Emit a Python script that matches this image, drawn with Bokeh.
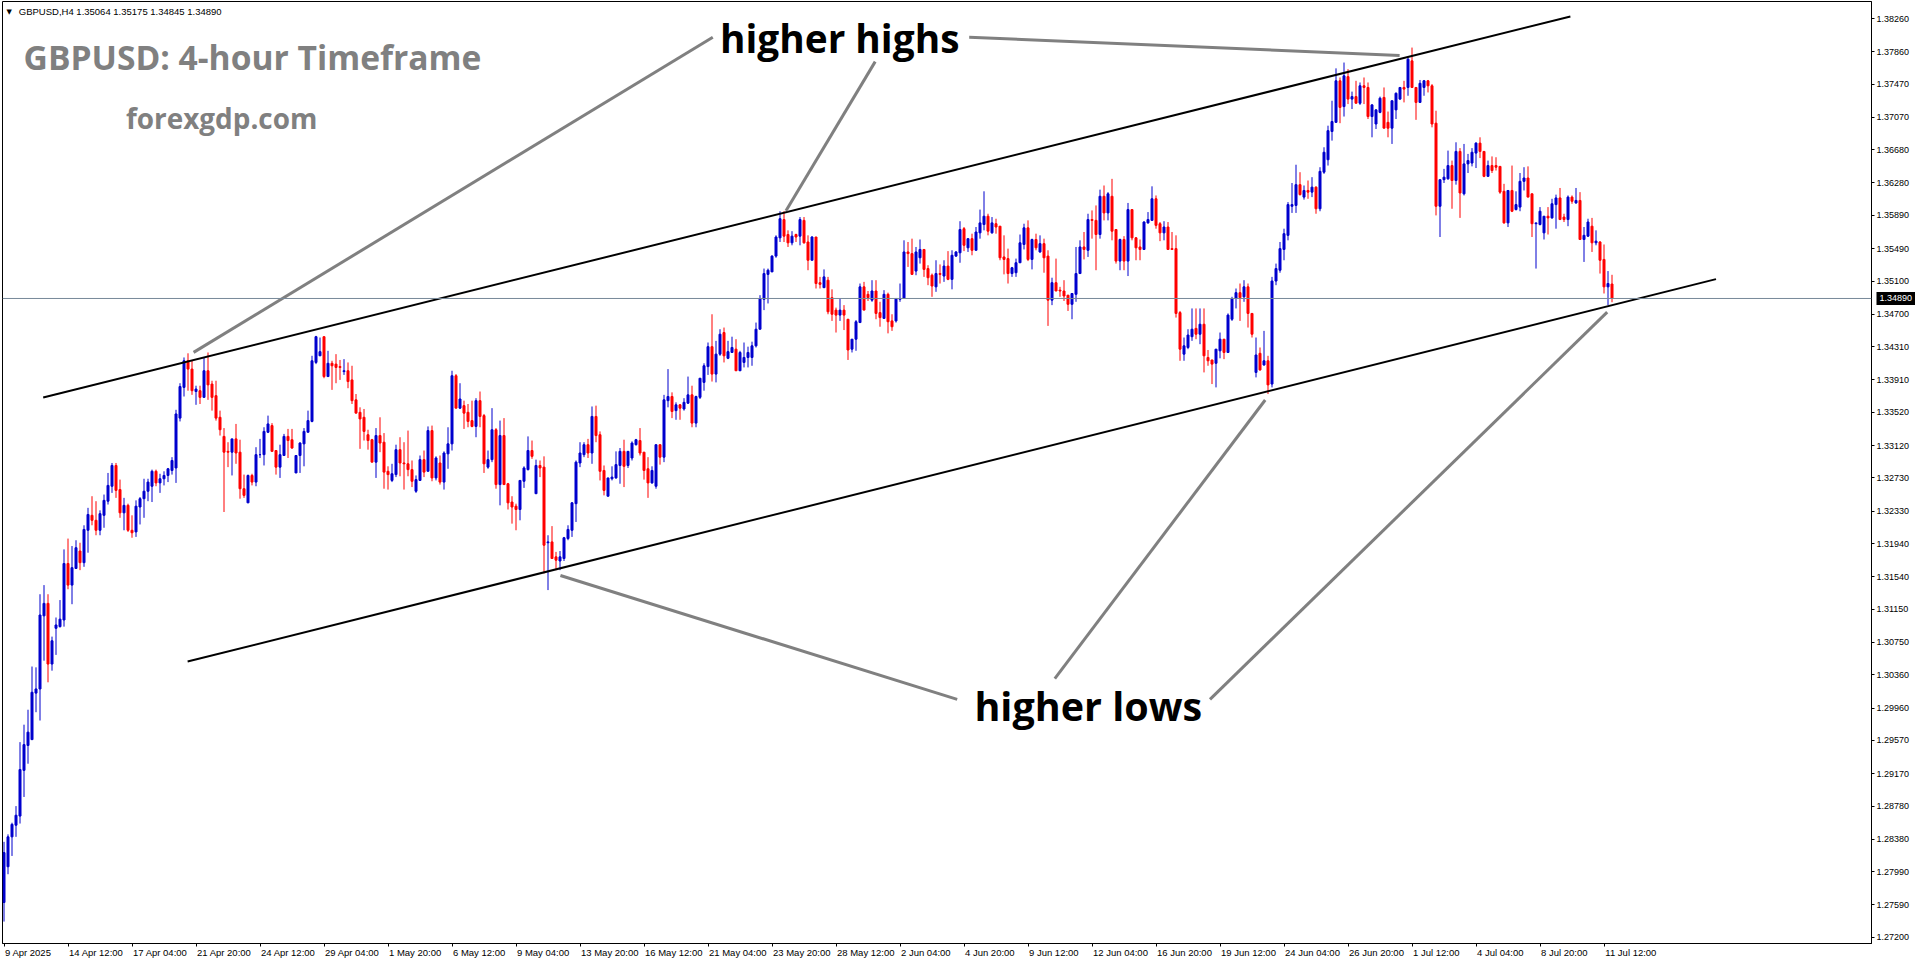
from bokeh.plotting import figure
from bokeh.models import (Range1d, FixedTicker, Label, Span, ColumnDataSource,
                          PrintfTickFormatter, LinearAxis)
from bokeh.embed import file_html
from bokeh.resources import INLINE

# ---------------- texts ----------------
symbol_header = "GBPUSD,H4  1.35064 1.35175 1.34845 1.34890"
chart_title = "GBPUSD: 4-hour Timeframe"
site_name = "forexgdp.com"
label_highs = "higher highs"
label_lows = "higher lows"
last_price = 1.34890

# ---------------- 4-hour candles (bar index 0 = 9 Apr 2025 20:00) ----------------
opens = [
1.2762,1.2805,1.2841,1.2855,1.2866,1.2921,1.2951,1.2958,1.3014,1.3019,
1.3107,1.3122,1.3049,1.3092,1.3094,1.3102,1.3170,1.3144,1.3164,1.3185,
1.3171,1.3210,1.3228,1.3222,1.3210,1.3228,1.3245,1.3263,1.3288,1.3259,
1.3231,1.3240,1.3210,1.3208,1.3238,1.3248,1.3257,1.3263,1.3281,1.3267,
1.3272,1.3276,1.3282,1.3285,1.3345,1.3382,1.3414,1.3404,1.3377,1.3378,
1.3370,1.3402,1.3386,1.3372,1.3346,1.3323,1.3305,1.3304,1.3320,1.3304,
1.3260,1.3243,1.3276,1.3268,1.3301,1.3301,1.3328,1.3336,1.3306,1.3286,
1.3300,1.3323,1.3319,1.3279,1.3300,1.3314,1.3328,1.3341,1.3412,1.3420,
1.3443,1.3395,1.3411,1.3410,1.3407,1.3401,1.3402,1.3391,1.3367,1.3352,
1.3346,1.3325,1.3319,1.3292,1.3324,1.3316,1.3281,1.3270,1.3277,1.3307,
1.3291,1.3290,1.3283,1.3257,1.3270,1.3295,1.3281,1.3330,1.3273,1.3291,
1.3268,1.3302,1.3314,1.3396,1.3357,1.3360,1.3352,1.3342,1.3335,1.3366,
1.3348,1.3286,1.3295,1.3331,1.3265,1.3324,1.3266,1.3244,1.3239,1.3235,
1.3269,1.3283,1.3306,1.3254,1.3288,1.3286,1.3195,1.3196,1.3178,1.3173,
1.3176,1.3200,1.3210,1.3242,1.3291,1.3301,1.3313,1.3303,1.3347,1.3325,
1.3282,1.3251,1.3272,1.3273,1.3288,1.3305,1.3288,1.3297,1.3313,1.3318,
1.3304,1.3284,1.3267,1.3263,1.3313,1.3298,1.3366,1.3371,1.3354,1.3361,
1.3356,1.3363,1.3373,1.3339,1.3370,1.3388,1.3407,1.3431,1.3398,1.3422,
1.3448,1.3417,1.3424,1.3428,1.3402,1.3412,1.3418,1.3418,1.3432,1.3452,
1.3488,1.3518,1.3521,1.3540,1.3562,1.3584,1.3566,1.3556,1.3566,1.3564,
1.3583,1.3557,1.3535,1.3563,1.3508,1.3502,1.3511,1.3490,1.3475,1.3469,
1.3475,1.3464,1.3428,1.3440,1.3460,1.3503,1.3494,1.3487,1.3498,1.3472,
1.3465,1.3494,1.3462,1.3462,1.3488,1.3489,1.3545,1.3543,1.3522,1.3538,
1.3548,1.3525,1.3517,1.3503,1.3519,1.3516,1.3528,1.3512,1.3540,1.3544,
1.3573,1.3550,1.3561,1.3547,1.3568,1.3578,1.3588,1.3568,1.3579,1.3576,
1.3539,1.3537,1.3519,1.3520,1.3532,1.3554,1.3574,1.3536,1.3560,1.3545,
1.3555,1.3540,1.3487,1.3508,1.3499,1.3498,1.3493,1.3482,1.3494,1.3519,
1.3551,1.3547,1.3584,1.3583,1.3566,1.3612,1.3592,1.3612,1.3572,1.3534,
1.3560,1.3534,1.3596,1.3562,1.3551,1.3548,1.3580,1.3583,1.3609,1.3579,
1.3568,1.3575,1.3549,1.3549,1.3472,1.3422,1.3430,1.3443,1.3453,1.3446,
1.3458,1.3418,1.3415,1.3411,1.3426,1.3440,1.3424,1.3464,1.3489,1.3496,
1.3491,1.3503,1.3471,1.3400,1.3423,1.3409,1.3414,1.3386,1.3510,1.3523,
1.3548,1.3565,1.3600,1.3601,1.3626,1.3611,1.3619,1.3617,1.3623,1.3597,
1.3641,1.3656,1.3690,1.3701,1.3751,1.3720,1.3756,1.3729,1.3732,1.3724,
1.3745,1.3743,1.3708,1.3699,1.3713,1.3731,1.3701,1.3694,1.3716,1.3729,
1.3743,1.3743,1.3775,1.3743,1.3725,1.3743,1.3751,1.3745,1.3700,1.3600,
1.3632,1.3633,1.3649,1.3631,1.3666,1.3615,1.3651,1.3652,1.3664,1.3676,
1.3666,1.3636,1.3649,1.3649,1.3648,1.3618,1.3580,1.3619,1.3596,1.3599,
1.3630,1.3634,1.3615,1.3579,1.3578,1.3568,1.3588,1.3586,1.3602,1.3610,
1.3587,1.3584,1.3611,1.3604,1.3607,1.3560,1.3564,1.3576,1.3556,1.3557,
1.3536,1.3503,1.35064]

highs = [
1.2835,1.2844,1.2858,1.2878,1.2955,1.2976,1.2994,1.3046,1.3045,1.3133,
1.3144,1.3133,1.3082,1.3105,1.3126,1.3187,1.3200,1.3191,1.3198,1.3195,
1.3216,1.3237,1.3251,1.3245,1.3234,1.3253,1.3279,1.3291,1.3291,1.3271,
1.3249,1.3242,1.3228,1.3246,1.3250,1.3272,1.3272,1.3283,1.3283,1.3278,
1.3281,1.3285,1.3298,1.3355,1.3387,1.3418,1.3423,1.3414,1.3384,1.3384,
1.3418,1.3424,1.3390,1.3390,1.3354,1.3333,1.3316,1.3320,1.3338,1.3319,
1.3277,1.3277,1.3278,1.3310,1.3320,1.3334,1.3348,1.3339,1.3306,1.3313,
1.3326,1.3332,1.3332,1.3300,1.3316,1.3333,1.3354,1.3420,1.3444,1.3442,
1.3443,1.3426,1.3414,1.3422,1.3415,1.3416,1.3412,1.3408,1.3374,1.3358,
1.3356,1.3331,1.3320,1.3333,1.3346,1.3327,1.3287,1.3290,1.3313,1.3322,
1.3316,1.3330,1.3294,1.3276,1.3300,1.3306,1.3335,1.3336,1.3299,1.3300,
1.3305,1.3334,1.3402,1.3398,1.3387,1.3366,1.3362,1.3366,1.3369,1.3377,
1.3350,1.3306,1.3357,1.3333,1.3342,1.3345,1.3267,1.3251,1.3242,1.3270,
1.3287,1.3323,1.3318,1.3295,1.3294,1.3299,1.3204,1.3215,1.3184,1.3185,
1.3202,1.3216,1.3244,1.3294,1.3316,1.3316,1.3320,1.3359,1.3360,1.3329,
1.3288,1.3273,1.3287,1.3305,1.3309,1.3319,1.3305,1.3317,1.3320,1.3333,
1.3304,1.3298,1.3287,1.3313,1.3313,1.3373,1.3404,1.3376,1.3364,1.3362,
1.3369,1.3395,1.3384,1.3372,1.3393,1.3411,1.3436,1.3470,1.3438,1.3452,
1.3454,1.3438,1.3443,1.3440,1.3426,1.3436,1.3431,1.3437,1.3460,1.3493,
1.3525,1.3525,1.3541,1.3565,1.3594,1.3594,1.3571,1.3570,1.3567,1.3587,
1.3587,1.3565,1.3564,1.3563,1.3515,1.3524,1.3515,1.3500,1.3478,1.3489,
1.3481,1.3464,1.3440,1.3463,1.3507,1.3509,1.3498,1.3511,1.3511,1.3485,
1.3499,1.3496,1.3470,1.3489,1.3507,1.3559,1.3557,1.3561,1.3551,1.3560,
1.3548,1.3529,1.3519,1.3535,1.3530,1.3535,1.3546,1.3547,1.3546,1.3582,
1.3575,1.3561,1.3567,1.3575,1.3596,1.3618,1.3591,1.3587,1.3585,1.3576,
1.3565,1.3549,1.3527,1.3537,1.3566,1.3579,1.3583,1.3561,1.3567,1.3565,
1.3561,1.3547,1.3514,1.3537,1.3503,1.3511,1.3493,1.3495,1.3551,1.3559,
1.3569,1.3591,1.3595,1.3601,1.3620,1.3625,1.3617,1.3633,1.3572,1.3561,
1.3564,1.3604,1.3596,1.3563,1.3560,1.3582,1.3593,1.3624,1.3613,1.3581,
1.3582,1.3581,1.3569,1.3565,1.3474,1.3442,1.3452,1.3477,1.3477,1.3477,
1.3477,1.3427,1.3415,1.3428,1.3448,1.3440,1.3471,1.3491,1.3501,1.3507,
1.3511,1.3507,1.3471,1.3442,1.3430,1.3450,1.3420,1.3515,1.3531,1.3557,
1.3573,1.3605,1.3628,1.3650,1.3641,1.3625,1.3631,1.3635,1.3624,1.3647,
1.3671,1.3697,1.3727,1.3766,1.3755,1.3773,1.3765,1.3738,1.3751,1.3749,
1.3755,1.3749,1.3723,1.3717,1.3732,1.3743,1.3714,1.3727,1.3737,1.3743,
1.3751,1.3779,1.3791,1.3743,1.3752,1.3752,1.3752,1.3747,1.3715,1.3632,
1.3645,1.3667,1.3655,1.3677,1.3670,1.3675,1.3663,1.3670,1.3677,1.3683,
1.3666,1.3655,1.3660,1.3659,1.3648,1.3627,1.3619,1.3649,1.3618,1.3640,
1.3647,1.3648,1.3615,1.3580,1.3599,1.3588,1.3599,1.3609,1.3614,1.3622,
1.3591,1.3613,1.3613,1.3622,1.3617,1.3575,1.3585,1.3586,1.3571,1.3558,
1.3554,1.3522,1.35175]

lows = [
1.2739,1.2796,1.2818,1.2841,1.2857,1.2889,1.2929,1.2958,1.2991,1.2981,
1.3053,1.3027,1.3041,1.3060,1.3093,1.3094,1.3139,1.3121,1.3164,1.3162,
1.3166,1.3183,1.3216,1.3204,1.3204,1.3213,1.3241,1.3255,1.3249,1.3225,
1.3210,1.3208,1.3201,1.3202,1.3217,1.3225,1.3245,1.3244,1.3263,1.3255,
1.3264,1.3268,1.3277,1.3267,1.3341,1.3371,1.3378,1.3373,1.3361,1.3362,
1.3370,1.3367,1.3354,1.3342,1.3324,1.3232,1.3286,1.3276,1.3290,1.3248,
1.3249,1.3243,1.3264,1.3263,1.3297,1.3288,1.3327,1.3305,1.3277,1.3273,
1.3300,1.3297,1.3308,1.3279,1.3279,1.3287,1.3328,1.3340,1.3410,1.3420,
1.3393,1.3395,1.3379,1.3387,1.3391,1.3397,1.3381,1.3362,1.3351,1.3308,
1.3318,1.3307,1.3292,1.3273,1.3304,1.3260,1.3259,1.3268,1.3274,1.3275,
1.3259,1.3275,1.3262,1.3255,1.3270,1.3274,1.3281,1.3269,1.3270,1.3265,
1.3259,1.3284,1.3306,1.3357,1.3356,1.3332,1.3334,1.3334,1.3322,1.3334,
1.3279,1.3284,1.3292,1.3260,1.3240,1.3265,1.3235,1.3218,1.3210,1.3222,
1.3261,1.3282,1.3296,1.3254,1.3274,1.3158,1.3138,1.3176,1.3162,1.3162,
1.3173,1.3198,1.3202,1.3220,1.3286,1.3298,1.3297,1.3290,1.3316,1.3270,
1.3252,1.3251,1.3270,1.3272,1.3266,1.3262,1.3285,1.3294,1.3312,1.3300,
1.3271,1.3249,1.3266,1.3260,1.3289,1.3292,1.3358,1.3345,1.3343,1.3343,
1.3354,1.3362,1.3334,1.3334,1.3368,1.3378,1.3397,1.3389,1.3388,1.3420,
1.3412,1.3416,1.3424,1.3402,1.3402,1.3406,1.3406,1.3408,1.3430,1.3452,
1.3475,1.3483,1.3521,1.3538,1.3557,1.3557,1.3551,1.3553,1.3557,1.3553,
1.3555,1.3523,1.3535,1.3501,1.3501,1.3502,1.3470,1.3462,1.3448,1.3462,
1.3451,1.3415,1.3424,1.3426,1.3460,1.3475,1.3486,1.3485,1.3464,1.3455,
1.3465,1.3447,1.3450,1.3460,1.3485,1.3489,1.3527,1.3518,1.3517,1.3531,
1.3515,1.3505,1.3491,1.3497,1.3507,1.3509,1.3511,1.3500,1.3539,1.3532,
1.3546,1.3545,1.3541,1.3547,1.3561,1.3571,1.3565,1.3567,1.3567,1.3535,
1.3518,1.3507,1.3515,1.3515,1.3532,1.3548,1.3534,1.3524,1.3547,1.3544,
1.3520,1.3456,1.3481,1.3498,1.3491,1.3486,1.3474,1.3464,1.3485,1.3519,
1.3536,1.3539,1.3561,1.3523,1.3561,1.3583,1.3583,1.3559,1.3531,1.3523,
1.3523,1.3516,1.3559,1.3535,1.3535,1.3548,1.3579,1.3583,1.3573,1.3558,
1.3559,1.3548,1.3548,1.3466,1.3414,1.3414,1.3428,1.3438,1.3440,1.3434,
1.3400,1.3408,1.3386,1.3382,1.3417,1.3416,1.3424,1.3462,1.3477,1.3462,
1.3485,1.3454,1.3442,1.3394,1.3402,1.3408,1.3374,1.3382,1.3505,1.3520,
1.3535,1.3559,1.3592,1.3592,1.3613,1.3608,1.3609,1.3611,1.3591,1.3594,
1.3639,1.3649,1.3679,1.3701,1.3700,1.3708,1.3723,1.3717,1.3724,1.3722,
1.3723,1.3705,1.3683,1.3693,1.3712,1.3694,1.3683,1.3675,1.3705,1.3728,
1.3725,1.3733,1.3743,1.3704,1.3725,1.3733,1.3737,1.3695,1.3589,1.3563,
1.3628,1.3632,1.3597,1.3626,1.3586,1.3613,1.3640,1.3648,1.3646,1.3658,
1.3635,1.3636,1.3640,1.3643,1.3615,1.3579,1.3575,1.3593,1.3595,1.3594,
1.3619,1.3611,1.3563,1.3525,1.3577,1.3560,1.3566,1.3585,1.3573,1.3584,
1.3581,1.3576,1.3603,1.3603,1.3560,1.3533,1.3563,1.3545,1.3553,1.3519,
1.3495,1.3481,1.34845]

closes = [
1.2822,1.2841,1.2856,1.2867,1.2922,1.2952,1.2967,1.3015,1.3019,1.3108,
1.3122,1.3049,1.3077,1.3096,1.3103,1.3170,1.3144,1.3165,1.3189,1.3171,
1.3211,1.3229,1.3222,1.3210,1.3230,1.3246,1.3264,1.3288,1.3258,1.3231,
1.3240,1.3210,1.3207,1.3239,1.3248,1.3257,1.3268,1.3281,1.3267,1.3272,
1.3276,1.3284,1.3294,1.3350,1.3383,1.3414,1.3404,1.3378,1.3380,1.3370,
1.3402,1.3385,1.3370,1.3345,1.3331,1.3304,1.3304,1.3320,1.3303,1.3260,
1.3252,1.3276,1.3268,1.3301,1.3301,1.3329,1.3338,1.3305,1.3286,1.3301,
1.3323,1.3318,1.3309,1.3300,1.3315,1.3329,1.3342,1.3414,1.3443,1.3425,
1.3395,1.3411,1.3408,1.3406,1.3406,1.3402,1.3389,1.3366,1.3351,1.3344,
1.3329,1.3318,1.3292,1.3324,1.3315,1.3280,1.3277,1.3278,1.3307,1.3291,
1.3290,1.3283,1.3269,1.3271,1.3295,1.3280,1.3330,1.3273,1.3297,1.3268,
1.3303,1.3314,1.3396,1.3357,1.3368,1.3351,1.3341,1.3335,1.3366,1.3347,
1.3290,1.3295,1.3331,1.3265,1.3324,1.3265,1.3243,1.3238,1.3235,1.3270,
1.3285,1.3306,1.3299,1.3288,1.3285,1.3192,1.3196,1.3176,1.3174,1.3178,
1.3201,1.3211,1.3243,1.3292,1.3303,1.3313,1.3303,1.3347,1.3324,1.3281,
1.3258,1.3273,1.3274,1.3289,1.3305,1.3287,1.3305,1.3315,1.3319,1.3303,
1.3282,1.3267,1.3282,1.3313,1.3298,1.3367,1.3371,1.3353,1.3361,1.3357,
1.3364,1.3373,1.3339,1.3371,1.3393,1.3408,1.3431,1.3398,1.3422,1.3446,
1.3420,1.3425,1.3430,1.3402,1.3424,1.3418,1.3424,1.3432,1.3452,1.3489,
1.3519,1.3523,1.3540,1.3563,1.3585,1.3564,1.3556,1.3564,1.3563,1.3584,
1.3556,1.3535,1.3563,1.3507,1.3506,1.3515,1.3473,1.3470,1.3469,1.3475,
1.3469,1.3427,1.3440,1.3461,1.3503,1.3475,1.3490,1.3498,1.3471,1.3466,
1.3494,1.3461,1.3455,1.3489,1.3489,1.3545,1.3543,1.3518,1.3545,1.3548,
1.3524,1.3514,1.3504,1.3519,1.3518,1.3528,1.3512,1.3541,1.3545,1.3572,
1.3553,1.3561,1.3547,1.3569,1.3580,1.3588,1.3570,1.3580,1.3575,1.3538,
1.3536,1.3519,1.3526,1.3532,1.3556,1.3574,1.3536,1.3560,1.3550,1.3555,
1.3538,1.3487,1.3508,1.3498,1.3498,1.3492,1.3482,1.3495,1.3519,1.3551,
1.3548,1.3584,1.3583,1.3566,1.3612,1.3592,1.3615,1.3570,1.3534,1.3560,
1.3534,1.3596,1.3562,1.3550,1.3548,1.3581,1.3584,1.3609,1.3577,1.3568,
1.3575,1.3548,1.3548,1.3471,1.3428,1.3432,1.3445,1.3452,1.3446,1.3458,
1.3420,1.3414,1.3410,1.3428,1.3440,1.3424,1.3469,1.3489,1.3496,1.3490,
1.3503,1.3471,1.3446,1.3421,1.3403,1.3414,1.3385,1.3510,1.3525,1.3549,
1.3567,1.3602,1.3602,1.3626,1.3614,1.3619,1.3617,1.3623,1.3597,1.3642,
1.3665,1.3691,1.3702,1.3751,1.3719,1.3757,1.3729,1.3732,1.3724,1.3745,
1.3743,1.3708,1.3722,1.3716,1.3730,1.3694,1.3694,1.3727,1.3736,1.3743,
1.3741,1.3777,1.3743,1.3725,1.3748,1.3751,1.3745,1.3699,1.3600,1.3632,
1.3635,1.3649,1.3631,1.3666,1.3616,1.3651,1.3655,1.3665,1.3676,1.3666,
1.3636,1.3649,1.3643,1.3647,1.3617,1.3580,1.3619,1.3594,1.3602,1.3630,
1.3634,1.3611,1.3579,1.3580,1.3594,1.3588,1.3586,1.3603,1.3610,1.3584,
1.3584,1.3611,1.3606,1.3607,1.3560,1.3565,1.3581,1.3556,1.3558,1.3535,
1.3503,1.3507,1.34890]

# ---------------- axes ----------------
x_tick_bars = [0, 16, 32, 48, 64, 80, 96, 112, 128, 144, 160, 176, 192,
               208, 224, 240, 256, 272, 288, 304, 320, 336, 352, 368, 384, 400]
x_tick_labels = ["9 Apr 2025", "14 Apr 12:00", "17 Apr 04:00", "21 Apr 20:00",
                 "24 Apr 12:00", "29 Apr 04:00", "1 May 20:00", "6 May 12:00",
                 "9 May 04:00", "13 May 20:00", "16 May 12:00", "21 May 04:00",
                 "23 May 20:00", "28 May 12:00", "2 Jun 04:00", "4 Jun 20:00",
                 "9 Jun 12:00", "12 Jun 04:00", "16 Jun 20:00", "19 Jun 12:00",
                 "24 Jun 04:00", "26 Jun 20:00", "1 Jul 12:00", "4 Jul 04:00",
                 "8 Jul 20:00", "11 Jul 12:00"]
y_tick_values = [1.38260, 1.37860, 1.37470, 1.37070, 1.36680, 1.36280, 1.35890,
                 1.35490, 1.35100, 1.34700, 1.34310, 1.33910, 1.33520, 1.33120,
                 1.32730, 1.32330, 1.31940, 1.31540, 1.31150, 1.30750, 1.30360,
                 1.29960, 1.29570, 1.29170, 1.28780, 1.28380, 1.27990, 1.27590,
                 1.27200]

# ---------------- drawn objects (bar index, price) ----------------
upper_channel_x = [9.8, 391.6]
upper_channel_y = [1.33697, 1.38285]
lower_channel_x = [45.9, 428.0]
lower_channel_y = [1.30520, 1.35123]
pointer_x0 = [177.2, 217.8, 241.3, 238.3, 262.7, 301.5]
pointer_y0 = [1.38035, 1.37741, 1.38035, 1.30064, 1.30315, 1.30064]
pointer_x1 = [47.4, 195.5, 348.9, 139.1, 315.3, 400.8]
pointer_y1 = [1.34241, 1.35947, 1.37815, 1.31556, 1.33668, 1.34726]

# ---------------- layout constants ----------------
FRAME_W, FRAME_H = 1869, 942
X0 = -0.375
X1 = X0 + FRAME_W / 4.0          # 4 px per bar
Y1 = 1.3826 + 17 / 8308.0
Y0 = Y1 - FRAME_H / 8308.0
px_per_bar = FRAME_W / (X1 - X0)
Y_FONT_PX = 9
X_FONT_PX = 9.5

n = min(len(opens), len(highs), len(lows), len(closes))
bars = list(range(n))
o, h, l, c = opens[:n], highs[:n], lows[:n], closes[:n]
colors = ["#0000cd" if cc >= oo else "#ff0000" for oo, cc in zip(o, c)]
src = ColumnDataSource(dict(
    x=bars, high=h, low=l,
    top=[max(a, b) for a, b in zip(o, c)],
    bottom=[min(a, b) for a, b in zip(o, c)],
    color=colors))

p = figure(frame_width=FRAME_W, frame_height=FRAME_H,
           x_range=Range1d(X0, X1), y_range=Range1d(Y0, Y1),
           y_axis_location="right", output_backend="svg", toolbar_location=None,
           min_border_left=2, min_border_top=1, min_border_right=44, min_border_bottom=20)
p.background_fill_color = "white"
p.border_fill_color = "white"
p.outline_line_color = "black"
p.outline_line_width = 1
p.xgrid.visible = False
p.ygrid.visible = False

# right price axis
ya = p.yaxis[0]
ya.ticker = FixedTicker(ticks=y_tick_values)
ya.formatter = PrintfTickFormatter(format="%.5f")
ya.major_label_text_font = "Liberation Sans"
ya.major_label_text_font_size = f"{Y_FONT_PX}px"
ya.major_label_text_color = "black"
ya.major_tick_in = 0
ya.major_tick_out = 3
ya.minor_tick_in = 0
ya.minor_tick_out = 0
ya.major_label_standoff = 2
ya.axis_line_color = "black"
ya.major_tick_line_color = "black"

# current price marker on the price scale (black box, white text)
price_axis = LinearAxis(ticker=FixedTicker(ticks=[last_price]),
                        formatter=PrintfTickFormatter(format="%.5f"),
                        axis_line_color=None,
                        major_tick_in=36, major_tick_out=6,
                        major_tick_line_color="black", major_tick_line_width=13,
                        minor_tick_in=0, minor_tick_out=0,
                        major_label_standoff=-39,
                        major_label_text_color="white",
                        major_label_text_font="Liberation Sans",
                        major_label_text_font_size=f"{Y_FONT_PX}px")
p.add_layout(price_axis, "right")

# time axis: tick marks on the main axis, left-aligned labels on a second axis
xa = p.xaxis[0]
xa.ticker = FixedTicker(ticks=x_tick_bars)
xa.major_label_overrides = {b: "" for b in x_tick_bars}
xa.major_label_text_font_size = "1px"
xa.major_label_text_alpha = 0
xa.major_label_standoff = 0
xa.major_tick_in = 0
xa.major_tick_out = 3
xa.minor_tick_in = 0
xa.minor_tick_out = 0
xa.axis_line_color = "black"
xa.major_tick_line_color = "black"

arial_w = {' ': 278, ':': 278, 'A': 667, 'p': 556, 'r': 333, 'M': 833, 'a': 556,
           'y': 500, 'J': 500, 'u': 556, 'n': 556, 'l': 222}
def text_px(t):
    return sum(arial_w.get(ch, 556) for ch in t) * X_FONT_PX / 1000.0

label_pos = [b + (text_px(t) / 2 + 1) / px_per_bar for b, t in zip(x_tick_bars, x_tick_labels)]
time_labels = LinearAxis(ticker=FixedTicker(ticks=label_pos),
                         major_label_overrides={v: t for v, t in zip(label_pos, x_tick_labels)},
                         axis_line_color=None, major_tick_line_color=None,
                         major_tick_in=0, major_tick_out=0, minor_tick_in=0, minor_tick_out=0,
                         major_label_standoff=0,
                         major_label_text_font="Liberation Sans",
                         major_label_text_font_size=f"{X_FONT_PX}px",
                         major_label_text_color="black")
p.add_layout(time_labels, "below")

# candles
p.segment(x0="x", y0="low", x1="x", y1="high", line_color="color", line_width=1, source=src)
p.vbar(x="x", width=0.5, top="top", bottom="bottom", fill_color="color",
       line_color="color", line_width=1, source=src)

# current price line
p.add_layout(Span(location=last_price, dimension="width", line_color="#778899", line_width=1))

# channel
p.line(upper_channel_x, upper_channel_y, line_color="black", line_width=2)
p.line(lower_channel_x, lower_channel_y, line_color="black", line_width=2)

# pointer lines
p.segment(x0=pointer_x0, y0=pointer_y0, x1=pointer_x1, y1=pointer_y1,
          line_color="#808080", line_width=3)

# texts (label y = visual centre of the text)
p.add_layout(Label(x=3.7, y=1.38344, text=symbol_header, text_font="Liberation Sans",
                   text_font_size="9.5px", text_color="black", text_baseline="middle"))
p.add_layout(Label(x=0.6, y=1.38344, text="\u25bc", text_font="DejaVu Sans",
                   text_font_size="7px", text_color="black", text_baseline="middle"))
p.add_layout(Label(x=4.9, y=1.37800, text=chart_title, text_font="Open Sans",
                   text_font_style="bold", text_font_size="33.6px", text_color="#808080",
                   text_baseline="alphabetic"))
p.add_layout(Label(x=30.5, y=1.37065, text=site_name, text_font="Open Sans",
                   text_font_style="bold", text_font_size="27.9px", text_color="#808080",
                   text_baseline="alphabetic"))
p.add_layout(Label(x=179.0, y=1.38030, text=label_highs, text_font="Open Sans",
                   text_font_style="bold", text_font_size="38.8px", text_color="black",
                   text_baseline="alphabetic"))
p.add_layout(Label(x=242.6, y=1.29990, text=label_lows, text_font="Open Sans",
                   text_font_style="bold", text_font_size="39.5px", text_color="black",
                   text_baseline="alphabetic"))

open("out.html", "w").write(file_html(p, INLINE))
